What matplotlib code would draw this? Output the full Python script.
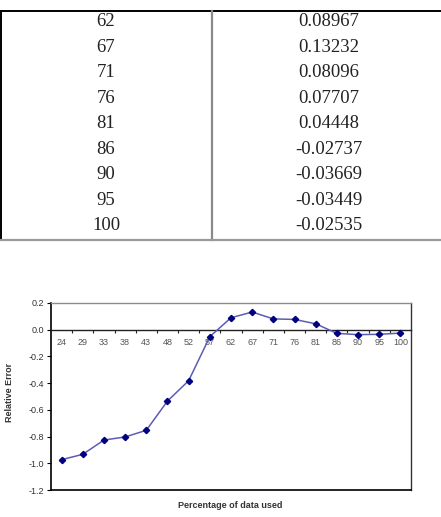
import matplotlib
matplotlib.use("Agg")
import matplotlib.pyplot as plt
from matplotlib.lines import Line2D
from matplotlib.ticker import FixedLocator, FixedFormatter, NullFormatter

# ---- data ----
pct = [24, 29, 33, 38, 43, 48, 52, 57, 62, 67, 71, 76, 81, 86, 90, 95, 100]
rel_err = [-0.973, -0.933, -0.826, -0.803, -0.753, -0.534, -0.382, -0.052,
           0.08967, 0.13232, 0.08096, 0.07707, 0.04448,
           -0.02737, -0.03669, -0.03449, -0.02535]
table_pct = ["62", "67", "71", "76", "81", "86", "90", "95", "100"]
table_err = ["0.08967", "0.13232", "0.08096", "0.07707", "0.04448",
             "-0.02737", "-0.03669", "-0.03449", "-0.02535"]
yticks = [0.2, 0.0, -0.2, -0.4, -0.6, -0.8, -1.0, -1.2]

W, H = 441, 517
fig = plt.figure(figsize=(W / 100, H / 100), dpi=100)
fig.patch.set_facecolor("white")


def fx(x):
    return x / W


def fy(y):
    return 1 - y / H


# ---- table ----
def hline(y, x0, x1, color, lw):
    fig.add_artist(Line2D([fx(x0), fx(x1)], [fy(y), fy(y)], color=color, lw=lw))


def vline(x, y0, y1, color, lw):
    fig.add_artist(Line2D([fx(x), fx(x)], [fy(y0), fy(y1)], color=color, lw=lw))


hline(10.5, 0, 441, "black", 1.4)
vline(0.8, 10.5, 240, "black", 1.4)
vline(211.5, 10.5, 240, "#8a8a8a", 1.6)
hline(240, 0, 441, "#9a9a9a", 1.6)

row0, step = 21.7, 25.5
for i, (p, e) in enumerate(zip(table_pct, table_err)):
    y = row0 + i * step
    fig.text(fx(106), fy(y), p, ha="center", va="center",
             family="Liberation Serif", fontsize=13.5, color="#222222")
    fig.text(fx(329), fy(y), e, ha="center", va="center",
             family="Liberation Serif", fontsize=13.5, color="#222222")

# ---- chart ----
left, top, right, bottom = 51, 303, 411, 490
ax = fig.add_axes([fx(left), fy(bottom), (right - left) / W, (bottom - top) / H])
x = list(range(len(pct)))
ax.plot(x, rel_err, color="#5c5cb4", lw=1.1, zorder=3)
ax.plot(x, rel_err, linestyle="none", marker="D", markersize=3.2,
        color="#000080", zorder=4)

ax.set_xlim(-0.5, len(pct) - 0.5)
ax.set_ylim(-1.2, 0.2)

ax.spines["bottom"].set_position(("data", 0))
ax.spines["bottom"].set_color("#222222")
ax.spines["bottom"].set_linewidth(1.0)
ax.spines["left"].set_color("black")
ax.spines["left"].set_linewidth(1.2)
ax.spines["top"].set_color("#8c8c8c")
ax.spines["top"].set_linewidth(1.0)
ax.spines["right"].set_color("#333333")
ax.spines["right"].set_linewidth(1.0)
ax.axhline(-1.2, color="black", lw=1.2, clip_on=False, zorder=5)

ax.xaxis.set_major_locator(FixedLocator(x))
ax.xaxis.set_major_formatter(FixedFormatter([str(p) for p in pct]))
ax.xaxis.set_minor_locator(FixedLocator([i + 0.5 for i in x[:-1]]))
ax.xaxis.set_minor_formatter(NullFormatter())
ax.tick_params(axis="x", which="major", length=0, pad=6, labelsize=6.5,
               labelcolor="#555555")
ax.tick_params(axis="x", which="minor", length=2.5, direction="out",
               width=0.8, color="#222222")

ax.yaxis.set_major_locator(FixedLocator(yticks))
ax.yaxis.set_major_formatter(FixedFormatter([f"{v:.1f}" for v in yticks]))
ax.tick_params(axis="y", length=3, width=0.8, pad=2, labelsize=6.5,
               labelcolor="#333333")
for lab in ax.get_xticklabels() + ax.get_yticklabels():
    lab.set_family("Liberation Sans")

fig.text(fx(10), fy(392), "Relative Error", rotation=90, ha="center",
         va="center", family="Liberation Sans", fontsize=6.5,
         fontweight="bold", color="#333333")
fig.text(fx(230), fy(505), "Percentage of data used", ha="center",
         va="center", family="Liberation Sans", fontsize=6.5,
         fontweight="bold", color="#333333")

fig.savefig("out.png", dpi=100, facecolor="white")
